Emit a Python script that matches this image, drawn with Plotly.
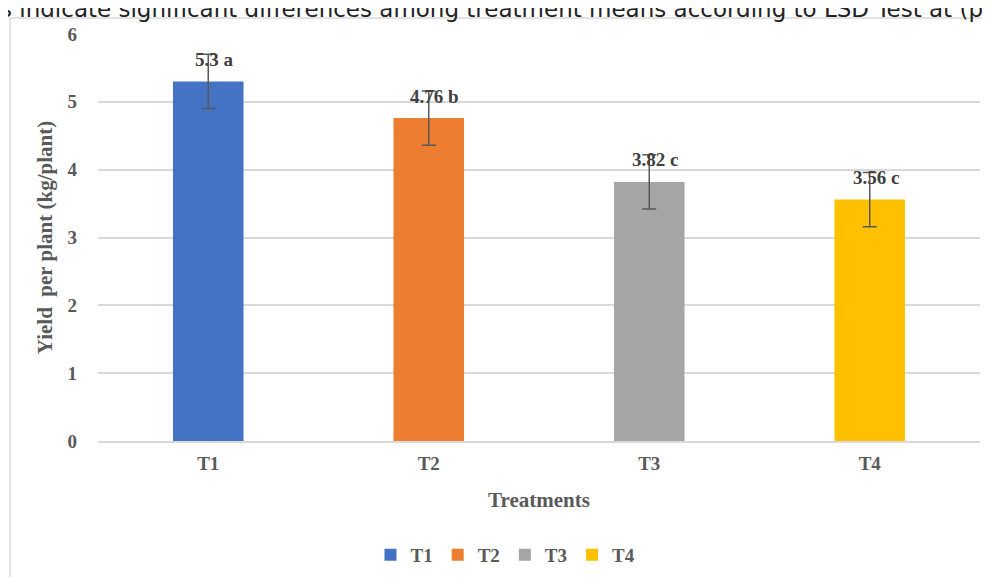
import plotly.graph_objects as go

categories = ["T1", "T2", "T3", "T4"]
yield_values = [5.3, 4.76, 3.82, 3.56]
errors = [0.4, 0.4, 0.4, 0.4]
letters = ["a", "b", "c", "c"]
colors = ["#4472C4", "#ED7D31", "#A5A5A5", "#FFC000"]
y_ticks = [0, 1, 2, 3, 4, 5, 6]

serif = "Liberation Serif, Times New Roman, serif"
axis_color = "#595959"

# plot-area geometry in figure pixels (page body adds an 8px offset)
L, T, W, H = 90, 26, 882, 407

def px(x):
    return (x - L) / W

def py(y):
    return (T + H - y) / H

fig = go.Figure()
for cat, val, err, col in zip(categories, yield_values, errors, colors):
    fig.add_trace(go.Bar(
        x=[cat], y=[val], name=cat, marker=dict(color=col, line=dict(width=0)),
        width=0.32,
        error_y=dict(type="data", array=[err], visible=True, color="#595959",
                     thickness=1.5, width=7),
    ))

for cat, val, let in zip(categories, yield_values, letters):
    fig.add_annotation(x=cat, y=val, text=f"<b>{val} {let}</b>", showarrow=False,
                       yshift=22, xshift=6,
                       font=dict(family=serif, size=19, color="#404040"))

# caption fragment above the chart (cropped in the original)
fig.add_annotation(xref="paper", yref="paper", x=px(-10), y=py(1),
                   xanchor="left", yanchor="middle",
                   text="s indicate significant differences among treatment means according to LSD Test at (p",
                   showarrow=False, font=dict(family="DejaVu Sans, Verdana, sans-serif", size=23, color="#222222"))

# chart border
fig.add_shape(type="rect", xref="paper", yref="paper",
              x0=px(2), x1=px(1000), y0=py(600), y1=py(10),
              line=dict(color="#D9D9D9", width=1.5), fillcolor="rgba(0,0,0,0)", layer="below")

fig.update_layout(
    width=990, height=577,
    margin=dict(l=L, r=990 - L - W, t=T, b=577 - T - H, autoexpand=False),
    paper_bgcolor="white", plot_bgcolor="white",
    barmode="overlay",
    showlegend=True,
    legend=dict(orientation="h", x=0.462, xanchor="center", y=-0.28, yanchor="middle",
                font=dict(family=serif, size=19, color=axis_color, weight="bold"), traceorder="normal",
                itemwidth=30, tracegroupgap=0),
    xaxis=dict(title=dict(text="Treatments", font=dict(family=serif, size=21, color=axis_color, weight="bold"), standoff=20),
               tickfont=dict(family=serif, size=19, color=axis_color, weight="bold"),
               ticklabelstandoff=4,
               showline=True, linecolor="#D9D9D9", linewidth=1.5, ticks="", showgrid=False),
    yaxis=dict(title=dict(text="Yield  per plant (kg/plant)", font=dict(family=serif, size=21, color=axis_color, weight="bold"), standoff=9),
               range=[0, 6], tickvals=y_ticks, tickfont=dict(family=serif, size=19, color=axis_color, weight="bold"),
               showgrid=True, gridcolor="#D9D9D9", gridwidth=1.5, zeroline=False, ticks="",
               ticklabelstandoff=20),
)

fig.write_html("out.html")
